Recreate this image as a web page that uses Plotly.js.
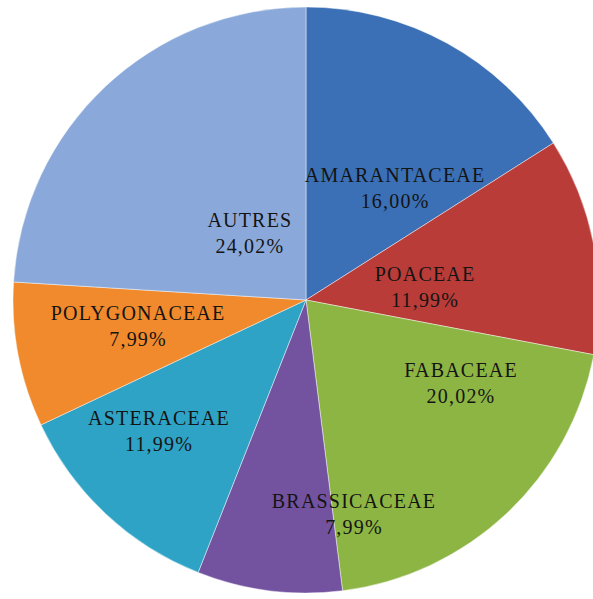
<!DOCTYPE html>
<html>
<head>
<meta charset="utf-8">
<script src="https://cdn.plot.ly/plotly-3.0.1.min.js"></script>
<style>
  html, body { margin: 0; padding: 0; overflow: hidden; background: #ffffff; }
  #chart { width: 612px; height: 599px; }
  #chart .annotation-text { letter-spacing: 1.2px; }
</style>
</head>
<body>
<div id="chart"></div>
<script>
const families = ["AMARANTACEAE", "POACEAE", "FABACEAE", "BRASSICACEAE", "ASTERACEAE", "POLYGONACEAE", "AUTRES"];
const shares = [16.00, 11.99, 20.02, 7.99, 11.99, 7.99, 24.02];
const sliceColors = ["#3b70b6", "#b93c38", "#8db543", "#7352a0", "#2fa3c5", "#f08a2c", "#8aa9da"];

// label placement ("best fit" in the original): radius fraction and angular nudge (deg) per slice
const labelRadius = [0.49, 0.41, 0.60, 0.75, 0.67, 0.58, 0.30];
const labelNudge = [9.7, 4.6, -18.5, -19.9, 5.1, 2.1, 3.3];

const W = 612, H = 599;
const cx = 306, cy = 300, R = 293;

const total = shares.reduce((a, b) => a + b, 0);
const fmt = v => (v / total * 100).toFixed(2).replace(".", ",") + "%";

let cum = 0;
const annotations = families.map((name, i) => {
  const mid = (cum + shares[i] / 2) / total * 360;
  cum += shares[i];
  const th = (mid + labelNudge[i]) * Math.PI / 180;
  const px = cx + labelRadius[i] * R * Math.sin(th);
  const py = cy - labelRadius[i] * R * Math.cos(th);
  return {
    xref: "paper", yref: "paper",
    x: px / W, y: (H - py) / H,
    xanchor: "center", yanchor: "middle",
    showarrow: false, align: "center",
    text: name + "<br>" + fmt(shares[i]),
    font: { family: "Liberation Serif, Times New Roman, serif", size: 20, color: "#141414" }
  };
});

Plotly.newPlot("chart", [{
  type: "pie",
  labels: families,
  values: shares,
  sort: false,
  direction: "clockwise",
  rotation: 0,
  domain: { x: [(cx - R) / W, (cx + R) / W], y: [(H - cy - R) / H, (H - cy + R) / H] },
  marker: { colors: sliceColors, line: { color: "rgba(255,255,255,0.45)", width: 1 } },
  textinfo: "none",
  hoverinfo: "label+percent",
  showlegend: false
}], {
  width: W, height: H,
  margin: { l: 0, r: 0, t: 0, b: 0 },
  separators: ", ",
  paper_bgcolor: "#ffffff",
  showlegend: false,
  annotations: annotations
}, { displayModeBar: false, staticPlot: true });
</script>
</body>
</html>
